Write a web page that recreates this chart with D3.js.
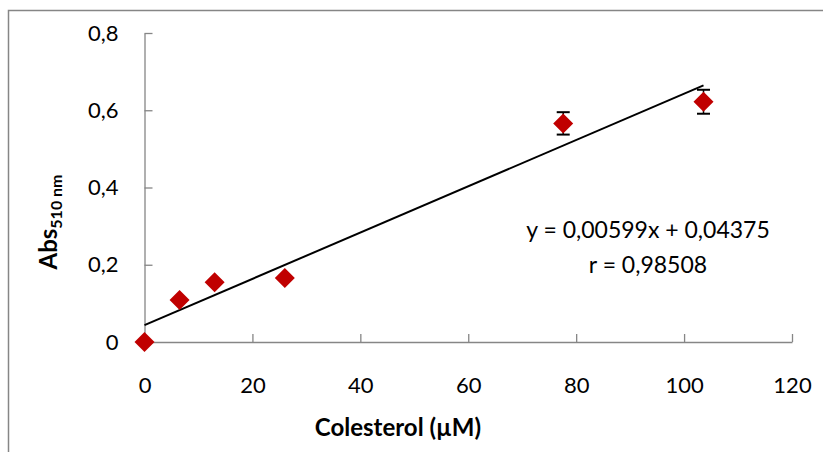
<!DOCTYPE html>
<html>
<head>
<meta charset="utf-8">
<script src="https://cdn.jsdelivr.net/npm/d3@7"></script>
<style>
  body { margin: 0; background: #fff; }
  svg text { font-family: Lato, "Open Sans", sans-serif; fill: #000; }
  .axis path, .axis line { stroke: #868686; stroke-width: 1.3; }
</style>
</head>
<body>
<div id="chart"></div>
<script>
// data
const colesterol = [0, 6.5, 13, 26, 77.6, 103.6];
const absorbance = [0, 0.109, 0.155, 0.166, 0.566, 0.622];
const errAbs = [0.005, 0.005, 0.005, 0.005, 0.029, 0.031];
const trendSlope = 0.00599;
const trendIntercept = 0.04375;
const xTicks = [0, 20, 40, 60, 80, 100, 120];
const yTicks = [0, 0.2, 0.4, 0.6, 0.8];
const equationLines = ['y = 0,00599x + 0,04375', 'r = 0,98508'];

const W = 823, H = 452;
const plot = { left: 144.5, right: 792, top: 33, bottom: 342 };

const svg = d3.select('#chart').append('svg')
    .attr('width', W)
    .attr('height', H);

// outer chart border (runs past right & bottom edges)
svg.append('rect')
    .attr('x', 8.5).attr('y', 10.5)
    .attr('width', W + 20).attr('height', H + 20)
    .attr('fill', 'none')
    .attr('stroke', '#868686')
    .attr('stroke-width', 1.5);

const x = d3.scaleLinear().domain([0, 120]).range([plot.left, plot.right]);
const y = d3.scaleLinear().domain([0, 0.8]).range([plot.bottom, plot.top]);

const fmt = d => String(d).replace('.', ',');

let gY = svg.append('g')
    .attr('class', 'axis')
    .attr('transform', 'translate(' + plot.left + ',0)')
    .call(d3.axisLeft(y).tickValues(yTicks).tickFormat(fmt)
        .tickSize(-8).tickSizeOuter(0).tickPadding(26));

let gX = svg.append('g')
    .attr('class', 'axis')
    .attr('transform', 'translate(0,' + plot.bottom + ')')
    .call(d3.axisBottom(x).tickValues(xTicks).tickFormat(fmt)
        .tickSize(-8).tickSizeOuter(0).tickPadding(35));

svg.selectAll('.axis text')
    .style('font-size', '22px')
    .style('font-family', 'Lato, sans-serif');

// trendline over data range
const xMax = d3.max(colesterol);
svg.append('line')
    .attr('x1', x(0)).attr('y1', y(trendIntercept))
    .attr('x2', x(xMax)).attr('y2', y(trendSlope * xMax + trendIntercept))
    .attr('stroke', '#000')
    .attr('stroke-width', 2);

const pts = colesterol.map((c, i) => ({ x: c, y: absorbance[i], e: errAbs[i] }));

// error bars
let eb = svg.append('g').selectAll('g').data(pts).enter().append('g');
eb.append('line')
    .attr('x1', d => x(d.x)).attr('x2', d => x(d.x))
    .attr('y1', d => y(d.y - d.e)).attr('y2', d => y(d.y + d.e))
    .attr('stroke', '#000').attr('stroke-width', 1.5);
eb.selectAll('line.cap')
    .data(d => [{ x: d.x, v: d.y - d.e }, { x: d.x, v: d.y + d.e }])
    .enter().append('line')
    .attr('class', 'cap')
    .attr('x1', d => x(d.x) - 6.5).attr('x2', d => x(d.x) + 6.5)
    .attr('y1', d => y(d.v)).attr('y2', d => y(d.v))
    .attr('stroke', '#000').attr('stroke-width', 2);

// diamond markers
svg.append('g').selectAll('path').data(pts).enter().append('path')
    .attr('d', 'M0,-10L10,0L0,10L-10,0Z')
    .attr('transform', d => 'translate(' + x(d.x) + ',' + y(d.y) + ')')
    .attr('fill', '#c00000');

// trend equation
svg.append('g').selectAll('text').data(equationLines).enter().append('text')
    .attr('x', 648)
    .attr('y', (d, i) => 238 + i * 34.5)
    .attr('text-anchor', 'middle')
    .style('font-size', '23px')
    .text(d => d);

// axis titles
svg.append('text')
    .attr('x', 398).attr('y', 436)
    .attr('text-anchor', 'middle')
    .style('font-size', '24px')
    .style('font-weight', 'bold')
    .text('Colesterol (µM)');

let yt = svg.append('text')
    .attr('transform', 'translate(57,222) rotate(-90)')
    .attr('text-anchor', 'middle')
    .style('font-size', '24px')
    .style('font-weight', 'bold');
yt.append('tspan').text('Abs');
yt.append('tspan').attr('dy', 5).style('font-size', '16px').text('510 nm');
</script>
</body>
</html>
